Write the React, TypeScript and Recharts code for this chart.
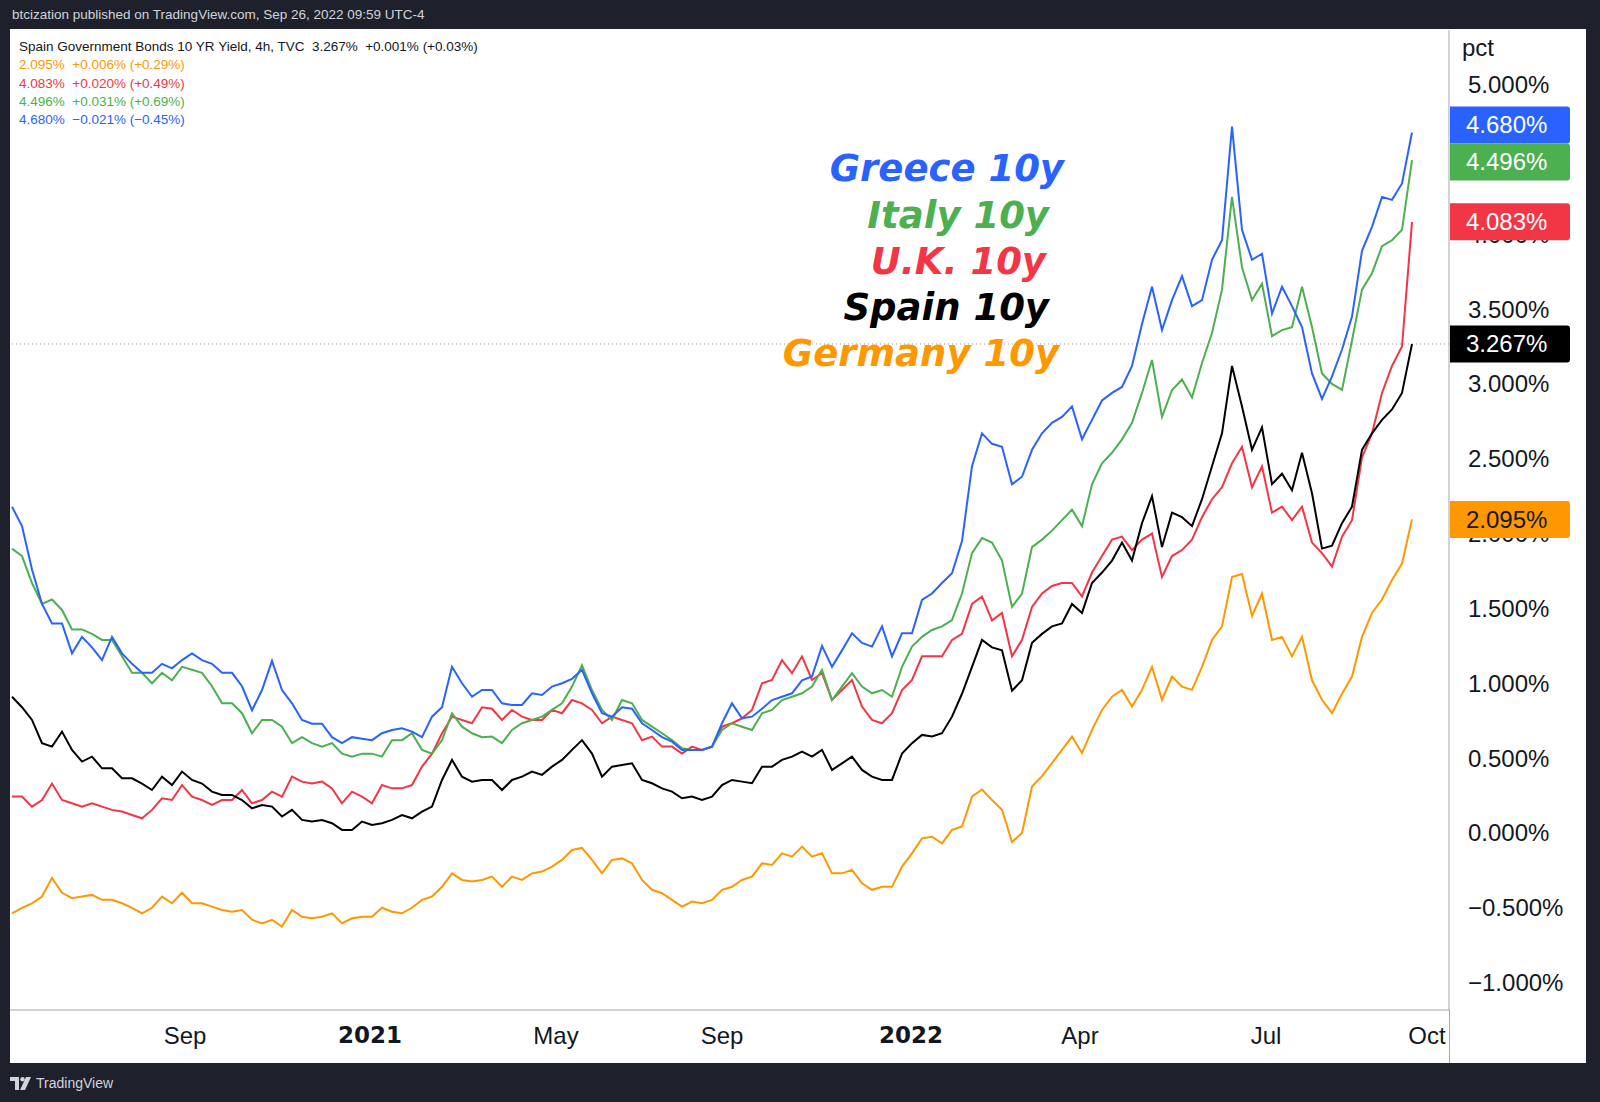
import React from 'react';
import { LineChart, Line, XAxis, YAxis, ReferenceLine } from 'recharts';

// Values, one sample per ~10px of the TradingView bar axis
const greece = [
  2.18, 2.05, 1.76, 1.53, 1.40, 1.40, 1.20, 1.31, 1.24, 1.155, 1.31, 1.20, 1.13, 1.07, 1.07, 1.13, 1.10, 1.155, 1.20, 1.155,
  1.13, 1.07, 1.07, 0.98, 0.82, 0.955, 1.15, 0.955, 0.866, 0.755, 0.73, 0.73, 0.64, 0.60, 0.64, 0.63, 0.62, 0.666, 0.688, 0.70,
  0.677, 0.64, 0.777, 0.84, 1.11, 1.00, 0.91, 0.955, 0.955, 0.866, 0.855, 0.855, 0.933, 0.922, 0.978, 1.00, 1.03, 1.09, 0.933, 0.80,
  0.777, 0.84, 0.83, 0.733, 0.688, 0.64, 0.61, 0.555, 0.555, 0.555, 0.577, 0.733, 0.866, 0.766, 0.777, 0.83, 0.888, 0.91, 0.933, 1.02,
  1.045, 1.25, 1.11, 1.22, 1.334, 1.27, 1.245, 1.38, 1.18, 1.334, 1.334, 1.557, 1.60, 1.67, 1.735, 1.95, 2.45, 2.67, 2.60, 2.58,
  2.33, 2.38, 2.56, 2.67, 2.74, 2.78, 2.85, 2.63, 2.76, 2.89, 2.94, 2.98, 3.12, 3.40, 3.65, 3.36, 3.56, 3.72, 3.52, 3.56,
  3.83, 3.96, 4.72, 4.03, 3.83, 3.87, 3.47, 3.65, 3.52, 3.38, 3.07, 2.90, 3.05, 3.23, 3.45, 3.89, 4.05, 4.25, 4.23, 4.34,
  4.68,
];
const italy = [
  1.90, 1.85, 1.67, 1.53, 1.56, 1.49, 1.36, 1.36, 1.33, 1.29, 1.29, 1.18, 1.07, 1.07, 1.00, 1.07, 1.02, 1.11, 1.09, 1.07,
  0.98, 0.866, 0.866, 0.80, 0.666, 0.755, 0.755, 0.71, 0.60, 0.64, 0.60, 0.577, 0.60, 0.53, 0.51, 0.53, 0.53, 0.51, 0.62, 0.62,
  0.666, 0.555, 0.53, 0.62, 0.80, 0.71, 0.666, 0.64, 0.644, 0.60, 0.688, 0.733, 0.755, 0.777, 0.822, 0.866, 0.978, 1.12, 0.955, 0.822,
  0.755, 0.888, 0.866, 0.755, 0.71, 0.666, 0.62, 0.566, 0.555, 0.555, 0.577, 0.688, 0.733, 0.71, 0.688, 0.80, 0.822, 0.888, 0.91, 0.933,
  0.978, 1.09, 0.888, 0.978, 1.067, 0.978, 0.933, 0.955, 0.91, 1.11, 1.245, 1.31, 1.356, 1.38, 1.423, 1.60, 1.87, 1.97, 1.94, 1.82,
  1.51, 1.60, 1.91, 1.96, 2.02, 2.09, 2.16, 2.05, 2.33, 2.47, 2.54, 2.63, 2.74, 2.94, 3.16, 2.78, 2.96, 3.03, 2.91, 3.14,
  3.34, 3.63, 4.25, 3.78, 3.56, 3.67, 3.32, 3.36, 3.38, 3.65, 3.38, 3.07, 3.00, 2.96, 3.29, 3.63, 3.74, 3.92, 3.96, 4.03,
  4.496,
];
const uk = [
  0.243, 0.243, 0.176, 0.22, 0.33, 0.22, 0.198, 0.176, 0.198, 0.176, 0.154, 0.143, 0.12, 0.098, 0.154, 0.232, 0.22, 0.32, 0.243, 0.22,
  0.187, 0.22, 0.22, 0.287, 0.198, 0.22, 0.276, 0.243, 0.376, 0.343, 0.33, 0.343, 0.298, 0.198, 0.276, 0.243, 0.198, 0.32, 0.298, 0.298,
  0.32, 0.443, 0.53, 0.666, 0.777, 0.755, 0.733, 0.84, 0.83, 0.755, 0.822, 0.777, 0.755, 0.755, 0.822, 0.80, 0.888, 0.866, 0.822, 0.733,
  0.777, 0.755, 0.733, 0.62, 0.644, 0.577, 0.577, 0.53, 0.577, 0.555, 0.577, 0.71, 0.733, 0.766, 0.822, 1.00, 1.022, 1.155, 1.067, 1.18,
  1.022, 1.067, 0.888, 0.955, 1.022, 0.844, 0.755, 0.733, 0.80, 0.955, 1.022, 1.18, 1.18, 1.18, 1.29, 1.33, 1.53, 1.58, 1.42, 1.47,
  1.18, 1.29, 1.51, 1.60, 1.65, 1.67, 1.67, 1.58, 1.74, 1.85, 1.96, 1.98, 1.89, 1.96, 2.00, 1.71, 1.85, 1.89, 1.96, 2.11,
  2.23, 2.31, 2.47, 2.58, 2.31, 2.45, 2.14, 2.18, 2.09, 2.18, 1.94, 1.87, 1.78, 1.98, 2.09, 2.51, 2.67, 2.94, 3.12, 3.25,
  4.083,
];
const spain = [
  0.91, 0.84, 0.755, 0.60, 0.577, 0.677, 0.555, 0.477, 0.51, 0.432, 0.432, 0.365, 0.365, 0.33, 0.287, 0.376, 0.32, 0.41, 0.354, 0.33,
  0.276, 0.254, 0.254, 0.22, 0.165, 0.187, 0.176, 0.11, 0.154, 0.087, 0.076, 0.087, 0.065, 0.02, 0.02, 0.076, 0.054, 0.065, 0.087, 0.12,
  0.098, 0.143, 0.176, 0.354, 0.488, 0.376, 0.343, 0.354, 0.354, 0.287, 0.354, 0.376, 0.41, 0.388, 0.443, 0.488, 0.555, 0.62, 0.53, 0.376,
  0.443, 0.454, 0.465, 0.354, 0.332, 0.298, 0.276, 0.232, 0.243, 0.22, 0.243, 0.32, 0.354, 0.343, 0.332, 0.443, 0.443, 0.488, 0.51, 0.544,
  0.51, 0.555, 0.421, 0.465, 0.51, 0.421, 0.376, 0.354, 0.354, 0.53, 0.60, 0.655, 0.644, 0.666, 0.777, 0.93, 1.11, 1.29, 1.24, 1.22,
  0.95, 1.02, 1.27, 1.33, 1.38, 1.40, 1.53, 1.47, 1.67, 1.74, 1.82, 1.94, 1.82, 2.07, 2.25, 1.91, 2.14, 2.11, 2.05, 2.23,
  2.45, 2.67, 3.12, 2.85, 2.56, 2.71, 2.33, 2.40, 2.29, 2.54, 2.27, 1.90, 1.92, 2.07, 2.18, 2.56, 2.67, 2.76, 2.83, 2.94,
  3.267,
];
const germany = [
  -0.537, -0.50, -0.47, -0.425, -0.30, -0.40, -0.436, -0.425, -0.414, -0.447, -0.447, -0.47, -0.50, -0.537, -0.50, -0.425, -0.47, -0.40, -0.47, -0.47,
  -0.492, -0.515, -0.526, -0.515, -0.58, -0.604, -0.58, -0.626, -0.515, -0.56, -0.57, -0.56, -0.537, -0.604, -0.57, -0.56, -0.56, -0.50, -0.526, -0.537,
  -0.50, -0.447, -0.425, -0.36, -0.27, -0.314, -0.325, -0.314, -0.292, -0.36, -0.292, -0.314, -0.27, -0.258, -0.225, -0.18, -0.114, -0.10, -0.18, -0.27,
  -0.18, -0.17, -0.203, -0.314, -0.38, -0.403, -0.447, -0.492, -0.458, -0.47, -0.447, -0.38, -0.36, -0.314, -0.292, -0.203, -0.214, -0.136, -0.158, -0.091,
  -0.158, -0.136, -0.27, -0.27, -0.247, -0.336, -0.38, -0.36, -0.36, -0.225, -0.136, -0.036, -0.025, -0.069, 0.02, 0.043, 0.243, 0.29, 0.22, 0.155,
  -0.06, 0.0, 0.31, 0.38, 0.466, 0.555, 0.644, 0.533, 0.689, 0.822, 0.91, 0.956, 0.844, 0.956, 1.11, 0.89, 1.045, 0.978, 0.956, 1.11,
  1.29, 1.38, 1.71, 1.73, 1.45, 1.60, 1.29, 1.31, 1.18, 1.31, 1.02, 0.89, 0.80, 0.93, 1.045, 1.31, 1.47, 1.56, 1.69, 1.80,
  2.095,
];

// time axis: bar index of each month label
const monthTicks = [17.3, 35.8, 54.4, 71.0, 89.9, 106.8, 125.4, 141.5];
const monthLabels = ['Sep', '2021', 'May', 'Sep', '2022', 'Apr', 'Jul', 'Oct'];
const priceTicks = [-1, -0.5, 0, 0.5, 1, 1.5, 2, 2.5, 3, 3.5, 4, 4.5, 5];

const seriesNames = ['Greece 10y', 'Italy 10y', 'U.K. 10y', 'Spain 10y', 'Germany 10y'];
const lastValues = [4.68, 4.496, 4.083, 3.267, 2.095];
const legendRows = [
  '2.095%  +0.006% (+0.29%)',
  '4.083%  +0.020% (+0.49%)',
  '4.496%  +0.031% (+0.69%)',
  '4.680%  \u22120.021% (\u22120.45%)',
];

const BLUE = '#2962ff';
const GREEN = '#4caf50';
const RED = '#f23645';
const BLACK = '#000000';
const ORANGE = '#ff9800';
const AXIS = '#a3a6af';
const FONT = '"Liberation Sans", Arial, sans-serif';

const CHART_W = 1576;
const CHART_H = 1034;
const MARGIN = { top: 1, right: 0, left: 0, bottom: 0 };
const X_AXIS_H = 53;
const Y_AXIS_W = 137;
const X_DOMAIN: [number, number] = [-0.2, 143.7];
const Y_MIN = -1.183;
const Y_MAX = 5.365;
const BADGE_H = 37;

const data = greece.map((g, i) => ({
  bar: i,
  greece: g,
  italy: italy[i],
  uk: uk[i],
  spain: spain[i],
  germany: germany[i],
}));

const fmtPct = (v: number) => (v < 0 ? '\u2212' : '') + Math.abs(v).toFixed(3) + '%';

// push overlapping last-value badges apart, like TradingView does
const plotH = CHART_H - MARGIN.top - X_AXIS_H;
const pxPerPct = plotH / (Y_MAX - Y_MIN);
const badgeShift = lastValues.map(() => 0);
for (let i = 1; i < lastValues.length; i++) {
  const gap = (lastValues[i - 1] - lastValues[i]) * pxPerPct + badgeShift[i] - badgeShift[i - 1];
  if (gap < BADGE_H) {
    const o = BADGE_H - gap;
    badgeShift[i - 1] -= o * 0.8;
    badgeShift[i] += o * 0.2;
  }
}

const TimeTick = (props: any) => {
  const { x, y, payload } = props;
  const label = monthLabels[monthTicks.indexOf(payload.value)];
  const isYear = /^\d{4}$/.test(label);
  return (
    <text
      x={x}
      y={y + 23}
      textAnchor="middle"
      dominantBaseline="central"
      fill="#131722"
      fontSize={isYear ? 23 : 24}
      fontWeight={isYear ? 700 : 400}
      fontFamily={isYear ? '"DejaVu Sans", sans-serif' : FONT}
    >
      {label}
    </text>
  );
};

const PriceTick = (props: any) => {
  const { x, y, payload } = props;
  return (
    <text x={x + 17} y={y} dominantBaseline="central" fill="#131722" fontSize={24} fontFamily={FONT}>
      {fmtPct(payload.value)}
    </text>
  );
};

const makeBadge = (fill: string, textColor: string, text: string, shift: number) => (props: any) => {
  const vb = props.viewBox || {};
  const x = (vb.x ?? 0) + (vb.width ?? 0) + 1;
  const y = (vb.y ?? 0) + shift - BADGE_H / 2;
  const w = 120;
  return (
    <g>
      <path
        d={`M${x},${y} h${w - 3} a3,3 0 0 1 3,3 v${BADGE_H - 6} a3,3 0 0 1 -3,3 h${-(w - 3)} z`}
        fill={fill}
      />
      <text x={x + 16} y={y + BADGE_H / 2} dominantBaseline="central" fill={textColor} fontSize={24} fontFamily={FONT}>
        {text}
      </text>
    </g>
  );
};

const badgeColors = [BLUE, GREEN, RED, BLACK, ORANGE];
const badgeText = ['#ffffff', '#ffffff', '#ffffff', '#ffffff', '#131722'];

const annotations = [
  { color: BLUE, right: 1064, top: 169 },
  { color: GREEN, right: 1049, top: 216 },
  { color: RED, right: 1046, top: 262 },
  { color: BLACK, right: 1049, top: 308 },
  { color: ORANGE, right: 1059, top: 354 },
];

export default function App() {
  return (
    <div style={{ position: 'absolute', left: 0, top: 0, width: 1600, height: 1102, background: '#1e212b', overflow: 'hidden', fontFamily: FONT }}>
      <div style={{ position: 'absolute', left: 12, top: 6, color: '#d1d4dc', fontSize: 13.5, lineHeight: '18px', whiteSpace: 'pre' }}>
        btcization published on TradingView.com, Sep 26, 2022 09:59 UTC-4
      </div>

      <div style={{ position: 'absolute', left: 10, top: 29, width: CHART_W, height: CHART_H, background: '#ffffff' }}>
        <LineChart width={CHART_W} height={CHART_H} data={data} margin={MARGIN}>
          <XAxis
            dataKey="bar"
            type="number"
            domain={X_DOMAIN}
            ticks={monthTicks}
            interval={0}
            tick={<TimeTick />}
            tickLine={false}
            tickSize={0}
            height={X_AXIS_H}
            axisLine={{ stroke: AXIS, strokeWidth: 1 }}
            allowDataOverflow
          />
          <YAxis
            orientation="right"
            type="number"
            domain={[Y_MIN, Y_MAX]}
            ticks={priceTicks}
            interval={0}
            tick={<PriceTick />}
            tickLine={false}
            tickSize={0}
            width={Y_AXIS_W}
            axisLine={{ stroke: AXIS, strokeWidth: 1 }}
            allowDataOverflow
          />
          <ReferenceLine y={lastValues[3]} stroke="#9598a1" strokeDasharray="1 3" strokeWidth={1} />
          <Line type="linear" dataKey="germany" stroke={ORANGE} strokeWidth={2} dot={false} isAnimationActive={false} />
          <Line type="linear" dataKey="uk" stroke={RED} strokeWidth={2} dot={false} isAnimationActive={false} />
          <Line type="linear" dataKey="spain" stroke={BLACK} strokeWidth={2} dot={false} isAnimationActive={false} />
          <Line type="linear" dataKey="italy" stroke={GREEN} strokeWidth={2} dot={false} isAnimationActive={false} />
          <Line type="linear" dataKey="greece" stroke={BLUE} strokeWidth={2} dot={false} isAnimationActive={false} />
        </LineChart>

        {/* same scales again on top, only for the last-value badges so they cover the tick labels */}
        <div style={{ position: 'absolute', left: 0, top: 0, pointerEvents: 'none' }}>
          <LineChart width={CHART_W} height={CHART_H} data={data} margin={MARGIN}>
            <XAxis dataKey="bar" type="number" domain={X_DOMAIN} tick={false} axisLine={false} tickLine={false} height={X_AXIS_H} allowDataOverflow />
            <YAxis orientation="right" type="number" domain={[Y_MIN, Y_MAX]} tick={false} axisLine={false} tickLine={false} width={Y_AXIS_W} allowDataOverflow />
            {lastValues.map((v, i) => (
              <ReferenceLine
                key={seriesNames[i]}
                y={v}
                stroke="none"
                label={{ content: makeBadge(badgeColors[i], badgeText[i], fmtPct(v), badgeShift[i]) }}
              />
            ))}
          </LineChart>
        </div>
      </div>

      {/* vertical separator runs down through the time axis */}
      <div style={{ position: 'absolute', left: 1449, top: 1010, width: 1, height: 53, background: AXIS }} />

      <div style={{ position: 'absolute', left: 1462, top: 34, fontSize: 24, color: '#131722', lineHeight: '28px' }}>pct</div>

      <div style={{ position: 'absolute', left: 19, top: 38, fontSize: 13.5, lineHeight: '18.3px', whiteSpace: 'pre' }}>
        <div style={{ color: '#131722' }}>Spain Government Bonds 10 YR Yield, 4h, TVC  3.267%  +0.001% (+0.03%)</div>
        {legendRows.map((row, i) => (
          <div key={row} style={{ color: [ORANGE, RED, GREEN, BLUE][i] }}>{row}</div>
        ))}
      </div>

      {annotations.map((a, i) => (
        <div
          key={seriesNames[i]}
          style={{
            position: 'absolute',
            left: 0,
            width: a.right,
            top: a.top - 24,
            height: 48,
            lineHeight: '48px',
            textAlign: 'right',
            color: a.color,
            fontFamily: '"DejaVu Sans", sans-serif',
            fontWeight: 700,
            fontStyle: 'italic',
            fontSize: 37,
            whiteSpace: 'pre',
          }}
        >
          {seriesNames[i]}
        </div>
      ))}

      <div style={{ position: 'absolute', left: 10, top: 1075, display: 'flex', alignItems: 'center', gap: 4, color: '#d1d4dc', fontSize: 14 }}>
        <svg width={22} height={13} viewBox="0 0 22 13">
          <path d="M0 0 H9 V13 H5 V4 H0 Z" fill="#d1d4dc" />
          <circle cx={12.5} cy={2.2} r={2.2} fill="#d1d4dc" />
          <path d="M16 0 H21 L15 13 H10 Z" fill="#d1d4dc" />
        </svg>
        <span>TradingView</span>
      </div>
    </div>
  );
}
